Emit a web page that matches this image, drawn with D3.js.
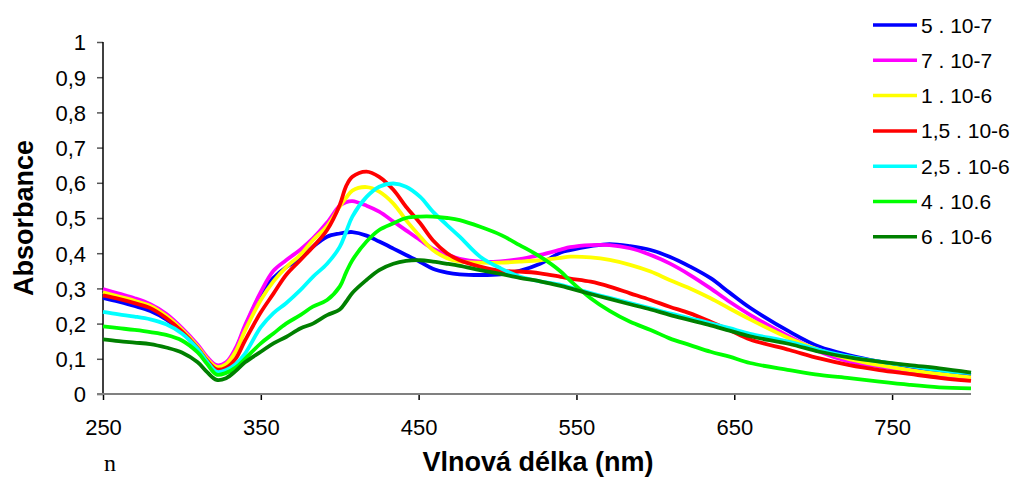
<!DOCTYPE html>
<html>
<head>
<meta charset="utf-8">
<script src="https://cdn.jsdelivr.net/npm/d3@7"></script>
<style>
  html, body { margin: 0; padding: 0; background: #fff; }
  svg { display: block; }
  text { font-family: "Liberation Sans", Arial, sans-serif; fill: #000; }
</style>
</head>
<body>
<svg id="chart" width="1015" height="477"></svg>
<script>
// Wavelength grid (nm)
const wavelengths = [250,260,270,280,290,300,310,316,322,328,334,340,350,358,366,375,383,392,400,404,408,417,425,434,442,451,459,468,476,489,502,514,527,540,546,559,571,584,597,609,622,635,647,660,685,704,723,742,761,780,800];

// Absorbance spectra, one array per concentration
const conc5e7   = [0.273,0.262,0.250,0.236,0.212,0.176,0.130,0.098,0.072,0.085,0.125,0.190,0.285,0.330,0.360,0.385,0.418,0.447,0.456,0.459,0.460,0.450,0.433,0.413,0.395,0.375,0.356,0.345,0.340,0.338,0.340,0.350,0.370,0.402,0.409,0.420,0.426,0.420,0.409,0.390,0.362,0.329,0.288,0.245,0.177,0.134,0.110,0.092,0.078,0.064,0.054];
const conc7e7   = [0.298,0.285,0.272,0.255,0.228,0.188,0.140,0.105,0.082,0.090,0.130,0.195,0.290,0.350,0.380,0.410,0.442,0.487,0.535,0.545,0.548,0.535,0.518,0.490,0.465,0.437,0.413,0.396,0.384,0.376,0.377,0.383,0.395,0.410,0.417,0.423,0.423,0.414,0.395,0.371,0.338,0.300,0.262,0.225,0.163,0.120,0.092,0.078,0.064,0.051,0.042];
const conc1e6   = [0.289,0.277,0.265,0.250,0.222,0.183,0.135,0.100,0.077,0.085,0.120,0.180,0.267,0.320,0.360,0.395,0.437,0.477,0.532,0.557,0.578,0.588,0.575,0.541,0.494,0.447,0.409,0.386,0.376,0.373,0.373,0.376,0.380,0.387,0.390,0.388,0.381,0.367,0.348,0.324,0.300,0.272,0.243,0.212,0.158,0.125,0.099,0.082,0.068,0.057,0.047];
const conc15e6  = [0.280,0.270,0.258,0.244,0.216,0.178,0.130,0.095,0.070,0.075,0.100,0.152,0.232,0.285,0.338,0.380,0.418,0.466,0.537,0.590,0.617,0.632,0.617,0.580,0.532,0.485,0.437,0.400,0.380,0.362,0.350,0.348,0.343,0.333,0.328,0.319,0.305,0.286,0.267,0.248,0.229,0.205,0.182,0.155,0.125,0.101,0.082,0.068,0.057,0.046,0.037];
const conc25e6  = [0.233,0.226,0.220,0.212,0.198,0.172,0.128,0.092,0.063,0.068,0.085,0.115,0.190,0.230,0.258,0.295,0.333,0.370,0.418,0.460,0.504,0.560,0.589,0.598,0.589,0.560,0.518,0.480,0.447,0.390,0.357,0.334,0.320,0.310,0.303,0.287,0.273,0.258,0.243,0.229,0.215,0.201,0.187,0.171,0.148,0.125,0.106,0.092,0.080,0.068,0.059];
const conc4e6   = [0.192,0.187,0.182,0.176,0.168,0.152,0.118,0.085,0.055,0.060,0.075,0.100,0.144,0.172,0.200,0.224,0.248,0.267,0.305,0.345,0.380,0.433,0.466,0.485,0.500,0.504,0.504,0.500,0.494,0.475,0.452,0.423,0.390,0.348,0.322,0.272,0.236,0.205,0.182,0.158,0.139,0.120,0.106,0.088,0.068,0.054,0.045,0.035,0.026,0.019,0.016];
const conc6e6   = [0.155,0.150,0.146,0.142,0.132,0.118,0.090,0.062,0.040,0.045,0.065,0.090,0.120,0.144,0.162,0.186,0.200,0.224,0.240,0.262,0.287,0.324,0.352,0.370,0.378,0.380,0.376,0.370,0.364,0.352,0.341,0.330,0.320,0.307,0.300,0.284,0.270,0.255,0.240,0.225,0.210,0.195,0.180,0.164,0.142,0.120,0.104,0.092,0.082,0.073,0.061];

const seriesLabels = ["5 . 10-7", "7 . 10-7", "1 . 10-6", "1,5 . 10-6", "2,5 . 10-6", "4 . 10.6", "6 . 10-6"];
const seriesColors = ["#0000FF", "#FF00FF", "#FFFF00", "#FF0000", "#00FFFF", "#00FF00", "#008000"];
const seriesValues = [conc5e7, conc7e7, conc1e6, conc15e6, conc25e6, conc4e6, conc6e6];

const xTicks = [250, 350, 450, 550, 650, 750];
const yTicks = [0, 0.1, 0.2, 0.3, 0.4, 0.5, 0.6, 0.7, 0.8, 0.9, 1];

const svg = d3.select("#chart");
svg.append("rect").attr("width", 1015).attr("height", 477).attr("fill", "#fff");

const x = d3.scaleLinear().domain([250, 800]).range([103, 971]);
const y = d3.scaleLinear().domain([0, 1]).range([394, 42]);

const fmt = d => (d === 0 || d === 1) ? String(d) : d.toFixed(1).replace(".", ",");

// Y axis
const yAxis = svg.append("g")
  .attr("transform", `translate(${x.range()[0]},0)`)
  .call(d3.axisLeft(y).tickValues(yTicks).tickFormat(fmt).tickSize(6).tickSizeOuter(0).tickPadding(11));
yAxis.select(".domain").remove();
yAxis.selectAll(".tick line").attr("stroke", "#555").attr("stroke-width", 1.5);
yAxis.selectAll(".tick text").attr("font-size", 22).attr("font-family", "Liberation Sans, Arial, sans-serif").attr("dy", "0.36em");
svg.append("line")
  .attr("x1", x.range()[0]).attr("x2", x.range()[0])
  .attr("y1", y.range()[1]).attr("y2", y.range()[0])
  .attr("stroke", "#000").attr("stroke-width", 1.5);

// X axis
const xAxis = svg.append("g")
  .attr("transform", `translate(0,${y.range()[0]})`)
  .call(d3.axisBottom(x).tickValues(xTicks).tickFormat(d3.format("d")).tickSize(6).tickSizeOuter(0));
xAxis.select(".domain").remove();
xAxis.selectAll(".tick line").attr("stroke", "#000").attr("stroke-width", 1.5);
xAxis.selectAll(".tick text").attr("font-size", 22).attr("font-family", "Liberation Sans, Arial, sans-serif")
  .attr("y", 41).attr("dy", 0);
svg.append("line")
  .attr("x1", x.range()[0] - 6).attr("x2", x.range()[1])
  .attr("y1", y.range()[0]).attr("y2", y.range()[0])
  .attr("stroke", "#808080").attr("stroke-width", 2);

// Spectra
const line = d3.line()
  .x((d, i) => x(wavelengths[i]))
  .y(d => y(d))
  .curve(d3.curveCatmullRom.alpha(0.5));

seriesValues.forEach((vals, k) => {
  svg.append("path")
    .datum(vals)
    .attr("fill", "none")
    .attr("stroke", seriesColors[k])
    .attr("stroke-width", 3.8)
    .attr("stroke-linejoin", "round")
    .attr("d", line);
});

// Legend
const legend = svg.append("g");
seriesLabels.forEach((lab, k) => {
  const cy = 25 + k * 35.3;
  legend.append("line")
    .attr("x1", 873).attr("x2", 917).attr("y1", cy).attr("y2", cy)
    .attr("stroke", seriesColors[k]).attr("stroke-width", 3.5);
  legend.append("text")
    .attr("x", 921).attr("y", cy).attr("dy", "0.36em")
    .attr("font-size", 21)
    .text(lab);
});

// Axis titles
svg.append("text")
  .attr("transform", "translate(33,218) rotate(-90)")
  .attr("text-anchor", "middle")
  .attr("font-size", 27).attr("font-weight", "bold")
  .text("Absorbance");

svg.append("text")
  .attr("x", 538).attr("y", 471)
  .attr("text-anchor", "middle")
  .attr("font-size", 27).attr("font-weight", "bold")
  .text("Vlnová délka (nm)");

svg.append("text")
  .attr("x", 104).attr("y", 471)
  .attr("font-size", 24)
  .style("font-family", "'Liberation Serif', 'Times New Roman', serif")
  .text("n");
</script>
</body>
</html>
